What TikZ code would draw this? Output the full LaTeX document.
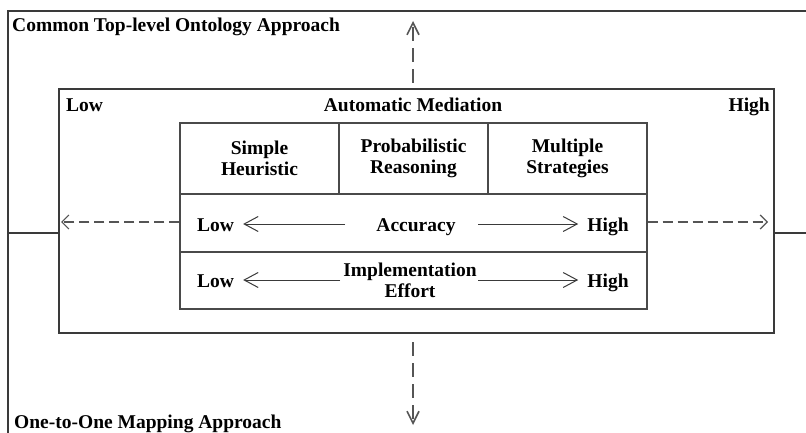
\documentclass[tikz,border=0pt]{standalone}
\usepackage{fontspec}
\setmainfont{Liberation Serif}
\usetikzlibrary{arrows.meta,positioning}
\definecolor{frameln}{HTML}{3A3A3A}
\definecolor{rowln}{HTML}{4A4A4A}
\definecolor{dashln}{HTML}{555555}

\begin{document}
\begin{tikzpicture}[x=1pt,y=-1pt,font=\fontsize{19.5}{21}\selectfont\bfseries,
  cell/.style={draw=rowln,line width=1.3pt,inner sep=0pt,align=center},
  lbl/.style={inner sep=0pt,anchor=base},
  a/.style={-{Straight Barb[length=14pt,width=15pt]},draw=frameln,line width=1pt},
  da/.style={-{Straight Barb[length=7pt,width=14pt]},draw=dashln,line width=1.2pt,
             dash pattern=on 10pt off 5pt},
  dv/.style={-{Straight Barb[length=12pt,width=12pt]},draw=dashln,line width=1.6pt,
             dash pattern=on 14pt off 7pt}]
\useasboundingbox (0,0) rectangle (806,433);

% approach axes
\draw[frameln,line width=1.2pt] (8,433) -- (8,11) -- (806,11);
\draw[frameln,line width=1.2pt] (8,233) -- (806,233);
\node[lbl,anchor=base west] (top) at (12,31.5){Common Top-level Ontology Approach};
\node[lbl,anchor=base west] (bot) at (14,428){One-to-One Mapping Approach};

% mediation box
\node[cell,draw=frameln,fill=white,minimum width=715pt,minimum height=244pt] (med) at (416.5,211){};
\node[lbl,anchor=base west] (lo) at (66,112){Low};
\node[lbl] (auto) at (413,112){Automatic Mediation};
\node[lbl,anchor=base east] (hi) at (770,112){High};

\node[cell,minimum width=159pt,minimum height=71pt] (simp) at (259.5,158.5){Simple\\Heuristic};
\node[cell,minimum width=149pt,minimum height=71pt] (prob) at (413.5,158.5){Probabilistic\\Reasoning};
\node[cell,minimum width=159pt,minimum height=71pt] (mult) at (567.5,158.5){Multiple\\Strategies};
\node[cell,minimum width=467pt,minimum height=58pt] (acc) at (413.5,223){};
\node[cell,minimum width=467pt,minimum height=57pt] (eff) at (413.5,280.5){};

% accuracy row
\node[lbl,inner xsep=9pt] (accLo) at (215.5,231.5){Low};
\node[lbl] (accTx) at (416,231){Accuracy};
\node[lbl,inner xsep=9pt] (accHi) at (608,231.5){High};
\coordinate (accL) at (345,224); \coordinate (accR) at (478,224);
\draw[a] (accL) -- (accLo.east|-accL);
\draw[a] (accR) -- (accHi.west|-accR);

% effort row
\node[lbl,inner xsep=9pt] (effLo) at (215.5,287){Low};
\node[inner sep=0pt,align=center] (effTx) at (410,280.5){Implementation\\Effort};
\node[lbl,inner xsep=9pt] (effHi) at (608,287){High};
\coordinate (effL) at (340,280); \coordinate (effR) at (478,280);
\draw[a] (effL) -- (effLo.east|-effL);
\draw[a] (effR) -- (effHi.west|-effR);

% dashed arrows
\coordinate (upS) at (413,83); \coordinate (upE) at (413,21);
\coordinate (dnS) at (413,342); \coordinate (dnE) at (413,425);
\coordinate (lfE) at (61,222); \coordinate (rtE) at (768,222);
\draw[dv] (upS) -- (upE);
\draw[dv] (dnS) -- (dnE);
\draw[da] (acc.west|-lfE) -- (lfE);
\draw[da] (acc.east|-rtE) -- (rtE);
\end{tikzpicture}
\end{document}
